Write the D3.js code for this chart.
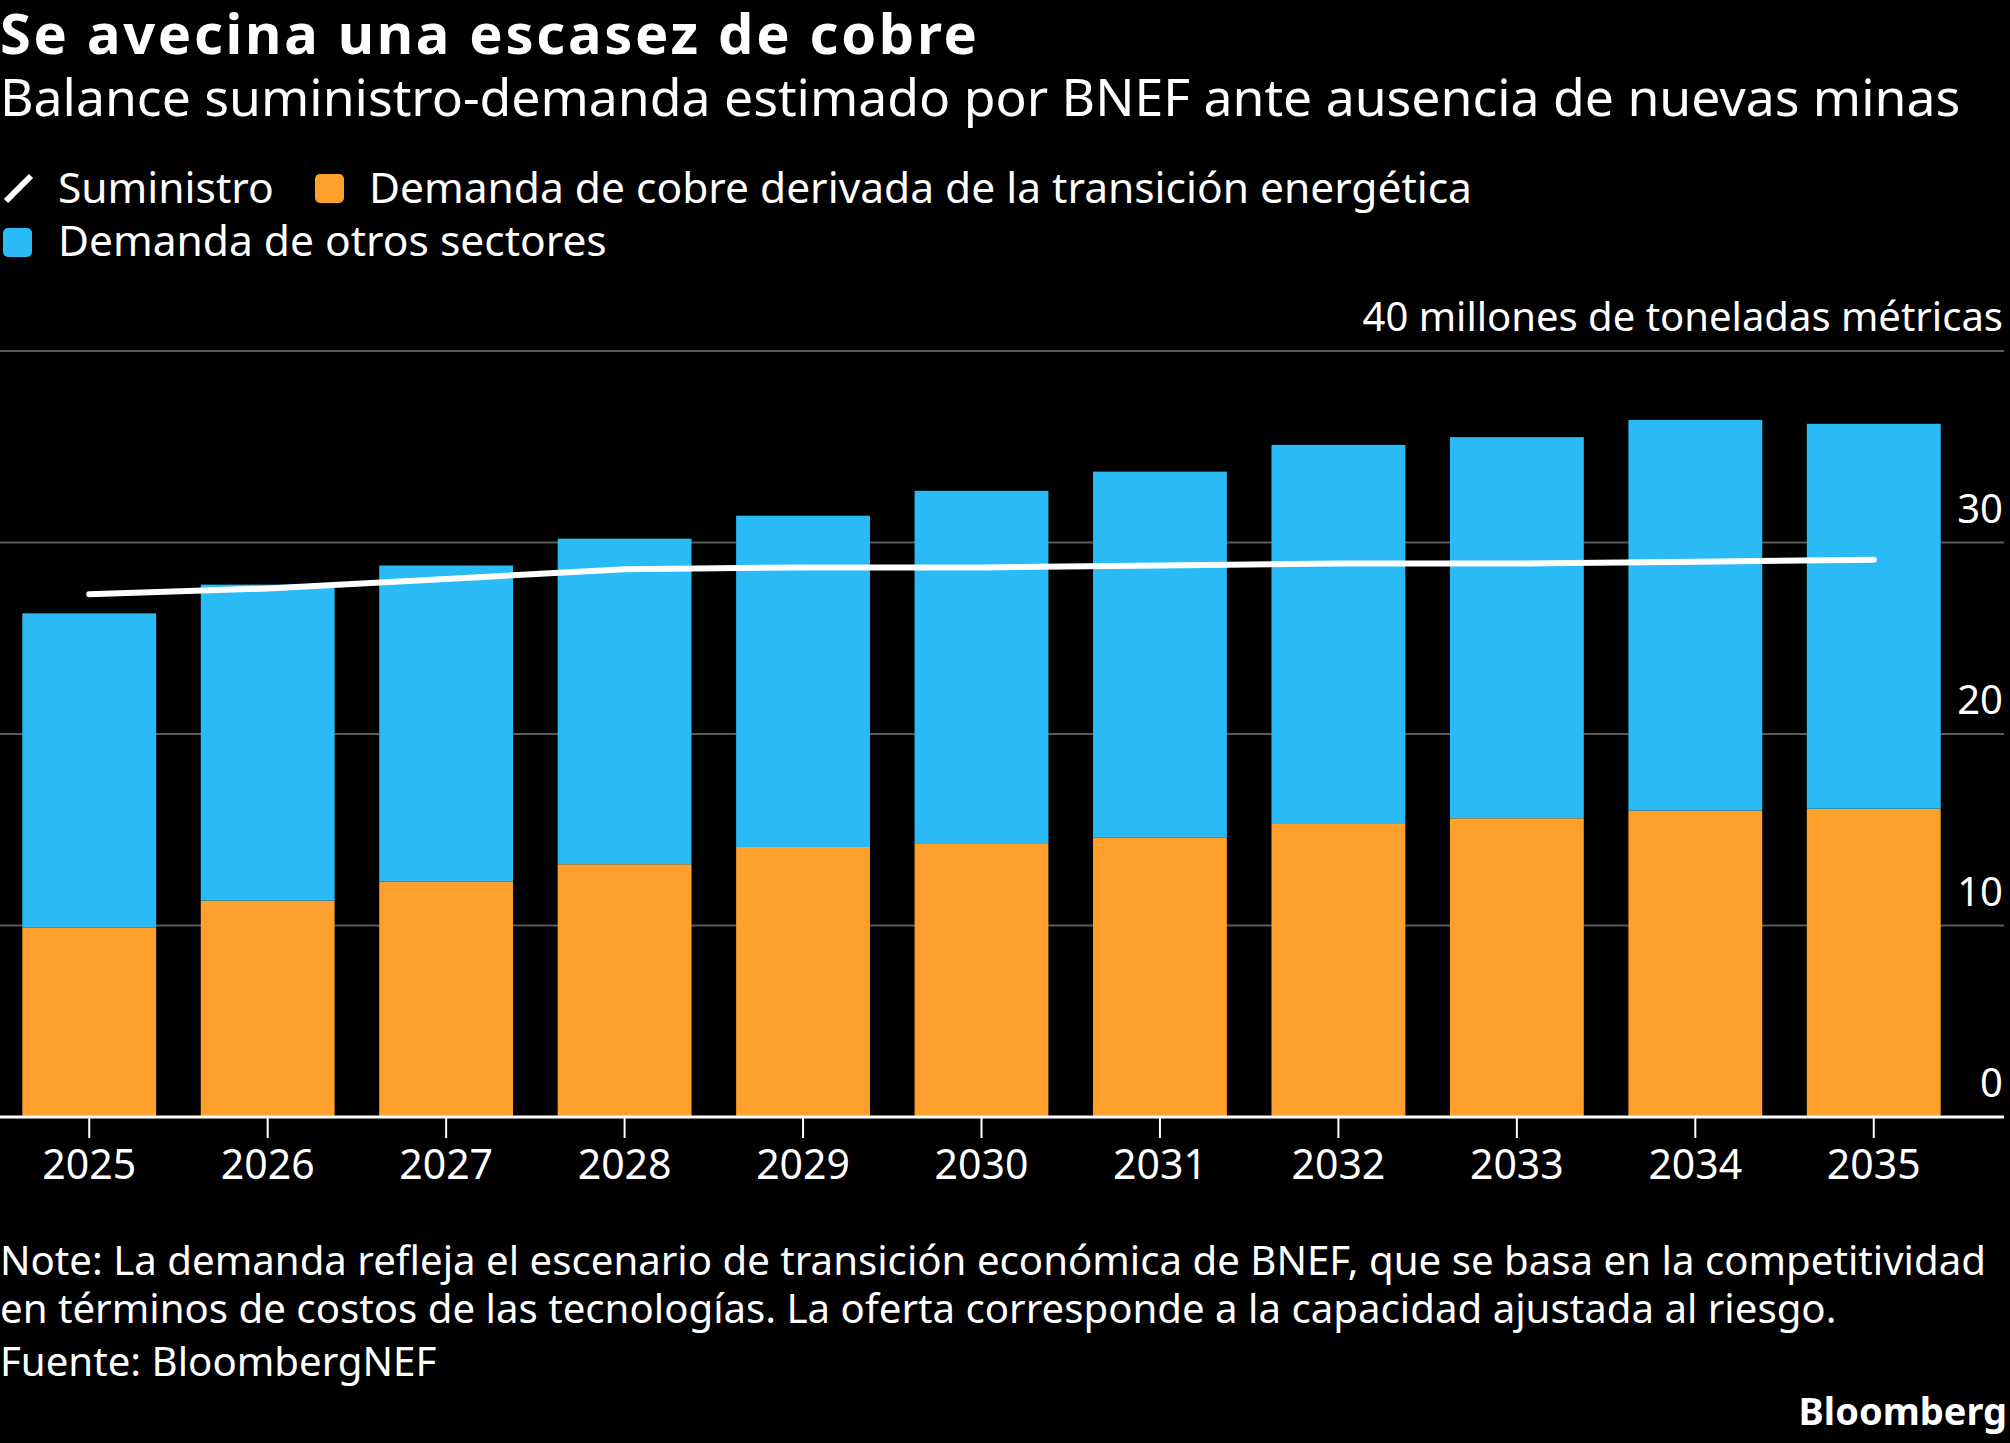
<!DOCTYPE html>
<html>
<head>
<meta charset="utf-8">
<script src="https://cdn.jsdelivr.net/npm/d3@7"></script>
<style>
  body { margin: 0; background: #000; }
  text { font-family: "Noto Sans", "Open Sans", sans-serif; fill: #fff; }
</style>
</head>
<body>
<div id="chart"></div>
<script>
var years = ["2025","2026","2027","2028","2029","2030","2031","2032","2033","2034","2035"];
var transicion = [9.9, 11.3, 12.3, 13.2, 14.1, 14.3, 14.6, 15.3, 15.6, 16.0, 16.1];
var otros = [16.4, 16.5, 16.5, 17.0, 17.3, 18.4, 19.1, 19.8, 19.9, 20.4, 20.1];
var suministro = [27.3, 27.6, 28.1, 28.6, 28.7, 28.7, 28.8, 28.9, 28.9, 29.0, 29.1];
var yTicks = [0, 10, 20, 30, 40];

var W = 2010, H = 1443;
var orange = "#fea02b", blue = "#2abbf7";

var svg = d3.select("#chart")
  .append("svg")
    .attr("width", W)
    .attr("height", H)
    .style("display", "block")
    .style("background", "#000");

// titles
svg.append("text").attr("x", 0).attr("y", 54)
  .style("font-size", "56px").style("font-weight", "bold")
  .style("letter-spacing", "2.7px")
  .text("Se avecina una escasez de cobre");
svg.append("text").attr("x", 0).attr("y", 116)
  .style("font-size", "51.7px")
  .text("Balance suministro-demanda estimado por BNEF ante ausencia de nuevas minas");

// legend
var leg = svg.append("g").style("font-size", "42.5px");
leg.append("line").attr("x1", 6).attr("y1", 201).attr("x2", 31).attr("y2", 176)
  .attr("stroke", "#fff").attr("stroke-width", 6);
leg.append("text").attr("x", 58).attr("y", 203).text("Suministro");
leg.append("rect").attr("x", 315).attr("y", 174).attr("width", 29).attr("height", 29)
  .attr("rx", 5).attr("fill", orange);
leg.append("text").attr("x", 369).attr("y", 203).text("Demanda de cobre derivada de la transición energética");
leg.append("rect").attr("x", 3).attr("y", 228).attr("width", 29).attr("height", 29)
  .attr("rx", 5).attr("fill", blue);
leg.append("text").attr("x", 58).attr("y", 256).text("Demanda de otros sectores");

// scales
var x = d3.scaleBand()
  .domain(years)
  .range([0, 1963])
  .paddingInner(0.25)
  .paddingOuter(0.125);

var y = d3.scaleLinear()
  .domain([0, 40])
  .range([1117, 351]);

// gridlines + labels
var grid = svg.append("g");
grid.selectAll("line")
  .data(yTicks.filter(function(d){ return d > 0; }))
  .enter().append("line")
    .attr("x1", 0).attr("x2", 2004)
    .attr("y1", function(d){ return y(d); })
    .attr("y2", function(d){ return y(d); })
    .attr("stroke", "#5a5a5a").attr("stroke-width", 2);

svg.append("g").selectAll("text")
  .data(yTicks)
  .enter().append("text")
    .attr("x", 2003)
    .attr("y", function(d){ return y(d) - 20; })
    .attr("text-anchor", "end")
    .style("font-size", "40px")
    .text(function(d){ return d === 40 ? "40 millones de toneladas métricas" : d; });

// stacked bars
var rows = years.map(function(yr, i){
  return { year: yr, transicion: transicion[i], otros: otros[i] };
});
var stack = d3.stack().keys(["transicion", "otros"])(rows);
var colors = { transicion: orange, otros: blue };

svg.append("g")
  .selectAll("g")
  .data(stack)
  .enter().append("g")
    .attr("fill", function(d){ return colors[d.key]; })
  .selectAll("rect")
  .data(function(d){ return d; })
  .enter().append("rect")
    .attr("x", function(d){ return x(d.data.year); })
    .attr("width", x.bandwidth())
    .attr("y", function(d){ return y(d[1]); })
    .attr("height", function(d){ return y(d[0]) - y(d[1]); });

// supply line
var line = d3.line()
  .x(function(d, i){ return x(years[i]) + x.bandwidth() / 2; })
  .y(function(d){ return y(d); });

svg.append("path")
  .datum(suministro)
  .attr("d", line)
  .attr("fill", "none")
  .attr("stroke", "#fff")
  .attr("stroke-width", 6)
  .attr("stroke-linecap", "round");

// x axis
var xAxis = svg.append("g")
  .attr("transform", "translate(0," + y(0) + ")")
  .call(d3.axisBottom(x).tickSize(21).tickPadding(12));
xAxis.select(".domain").remove();
xAxis.selectAll(".tick line").attr("stroke", "#fff").attr("stroke-width", 2);
xAxis.selectAll(".tick text")
  .attr("fill", "#fff")
  .style("font-size", "41px")
  .style("font-family", "Noto Sans, Open Sans, sans-serif");

svg.append("line")
  .attr("x1", 0).attr("x2", 2004)
  .attr("y1", y(0)).attr("y2", y(0))
  .attr("stroke", "#fff").attr("stroke-width", 3);

// footer
var foot = svg.append("g").style("font-size", "40.2px");
foot.append("text").attr("x", 0).attr("y", 1275)
  .text("Note: La demanda refleja el escenario de transición económica de BNEF, que se basa en la competitividad");
foot.append("text").attr("x", 0).attr("y", 1323)
  .text("en términos de costos de las tecnologías. La oferta corresponde a la capacidad ajustada al riesgo.");
foot.append("text").attr("x", 0).attr("y", 1376)
  .text("Fuente: BloombergNEF");
svg.append("text").attr("x", 2007).attr("y", 1425)
  .attr("text-anchor", "end")
  .style("font-size", "38px").style("font-weight", "bold")
  .text("Bloomberg");
</script>
</body>
</html>
